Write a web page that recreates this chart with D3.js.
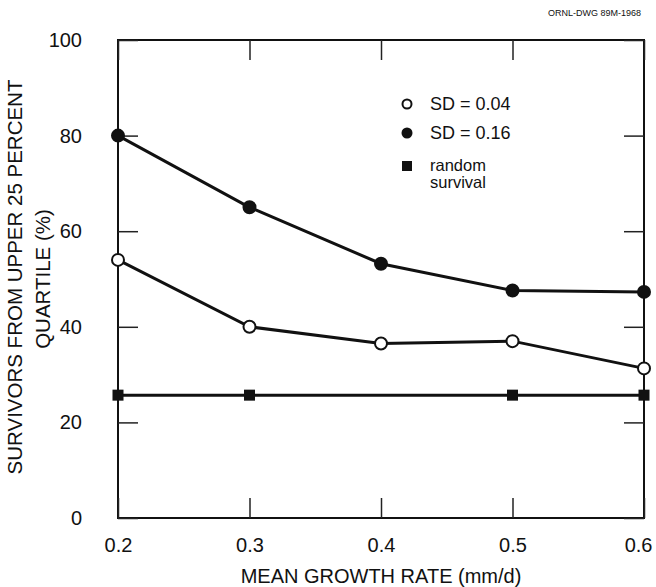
<!DOCTYPE html>
<html>
<head>
<meta charset="utf-8">
<script src="https://cdn.jsdelivr.net/npm/d3@7"></script>
<style>
  body { margin: 0; background: #fff; }
  svg text { font-family: "Liberation Sans", Arial, Helvetica, sans-serif; fill: #111; }
</style>
</head>
<body>
<svg id="chart" width="656" height="587"></svg>
<script>
// ── Data ─────────────────────────────────────────────────────────────────
const growth      = [0.2, 0.3, 0.4, 0.5, 0.6];
const sdLow       = [54, 40, 36.5, 37, 31.3];      // SD = 0.04 (open circles)
const sdHigh      = [80, 65, 53.2, 47.6, 47.3];    // SD = 0.16 (filled circles)
const randomX     = [0.2, 0.3, 0.5, 0.6];
const randomSurv  = [25.7, 25.7, 25.7, 25.7];      // random survival (squares)
const xTicks      = [0.2, 0.3, 0.4, 0.5, 0.6];
const yTicks      = [0, 20, 40, 60, 80, 100];

const M  = { top: 40, right: 12, bottom: 69, left: 118 };
const VW = 656, VH = 587;
const W  = VW - M.left - M.right;
const H  = VH - M.top  - M.bottom;

const svg = d3.select("#chart");
const g   = svg.append("g").attr("transform", `translate(${M.left},${M.top})`);

const x = d3.scaleLinear().domain([0.2, 0.6]).range([0, W]);
const y = d3.scaleLinear().domain([0, 100]).range([H, 0]);

// frame
g.append("rect").attr("width", W).attr("height", H)
  .attr("fill", "none").attr("stroke", "#111").attr("stroke-width", 2);

// ── Axes: inward ticks on all four sides ─────────────────────────────────
const TL = 20;
const styleAxis = ax => {
  ax.select(".domain").remove();
  ax.selectAll("line").attr("stroke", "#222").attr("stroke-width", 1.5);
};
g.append("g").attr("transform", `translate(0,${H})`)
  .call(d3.axisBottom(x).tickValues(xTicks).tickSize(-TL).tickPadding(TL + 6)
    .tickFormat(d3.format(".1f")))
  .call(styleAxis)
  .selectAll("text").attr("font-size", "20px").attr("dy", "0.42em")
  // last label sits right at the picture edge, keep it inside
  .filter(d => d === 0.6).attr("text-anchor", "end").attr("x", 8);
g.append("g")
  .call(d3.axisTop(x).tickValues(xTicks).tickSize(-TL).tickFormat(""))
  .call(styleAxis);
g.append("g")
  .call(d3.axisLeft(y).tickValues(yTicks).tickSize(-TL).tickPadding(TL + 16))
  .call(styleAxis)
  .selectAll("text").attr("font-size", "20px");
g.append("g").attr("transform", `translate(${W},0)`)
  .call(d3.axisRight(y).tickValues(yTicks).tickSize(-TL).tickFormat(""))
  .call(styleAxis);

// ── Series ───────────────────────────────────────────────────────────────
const line = d3.line().x(d => x(d[0])).y(d => y(d[1]));
const series = [
  { pts: d3.zip(randomX, randomSurv), shape: "square" },
  { pts: d3.zip(growth, sdLow),       shape: "open"   },
  { pts: d3.zip(growth, sdHigh),      shape: "filled" }
];
series.forEach(s => {
  g.append("path").datum(s.pts).attr("d", line)
    .attr("fill", "none").attr("stroke", "#111").attr("stroke-width", 3);
  const pts = g.append("g").selectAll("*").data(s.pts);
  if (s.shape === "square") {
    pts.join("rect")
      .attr("x", d => x(d[0]) - 5.5).attr("y", d => y(d[1]) - 5.5)
      .attr("width", 11).attr("height", 11).attr("fill", "#111");
  } else {
    pts.join("circle")
      .attr("cx", d => x(d[0])).attr("cy", d => y(d[1])).attr("r", 6)
      .attr("fill", s.shape === "open" ? "#fff" : "#111")
      .attr("stroke", "#111").attr("stroke-width", 2);
  }
});

// ── Legend ───────────────────────────────────────────────────────────────
const leg = svg.append("g").attr("transform", "translate(407,0)");
leg.append("circle").attr("cx", 0).attr("cy", 104).attr("r", 4.5)
  .attr("fill", "#fff").attr("stroke", "#111").attr("stroke-width", 2);
leg.append("circle").attr("cx", 0).attr("cy", 133).attr("r", 5.5).attr("fill", "#111");
leg.append("rect").attr("x", -5).attr("y", 161).attr("width", 10).attr("height", 10).attr("fill", "#111");
[["SD = 0.04", 110, 18], ["SD = 0.16", 139, 18], ["random", 171, 16.5], ["survival", 188, 16.5]]
  .forEach(([t, yy, fs]) =>
    leg.append("text").attr("x", 23).attr("y", yy).attr("font-size", fs + "px").text(t));

// ── Titles ───────────────────────────────────────────────────────────────
svg.append("text").attr("x", M.left + W / 2).attr("y", 583)
  .attr("text-anchor", "middle").attr("font-size", "20px")
  .text("MEAN GROWTH RATE (mm/d)");
svg.append("text").attr("transform", "translate(22,277) rotate(-90)")
  .attr("text-anchor", "middle").attr("font-size", "20.5px")
  .text("SURVIVORS FROM UPPER 25 PERCENT");
svg.append("text").attr("transform", "translate(50,279) rotate(-90)")
  .attr("text-anchor", "middle").attr("font-size", "20.5px")
  .text("QUARTILE (%)");

svg.append("text").attr("x", 641).attr("y", 16).attr("text-anchor", "end")
  .attr("font-size", "9px").text("ORNL-DWG 89M-1968");
</script>
</body>
</html>
